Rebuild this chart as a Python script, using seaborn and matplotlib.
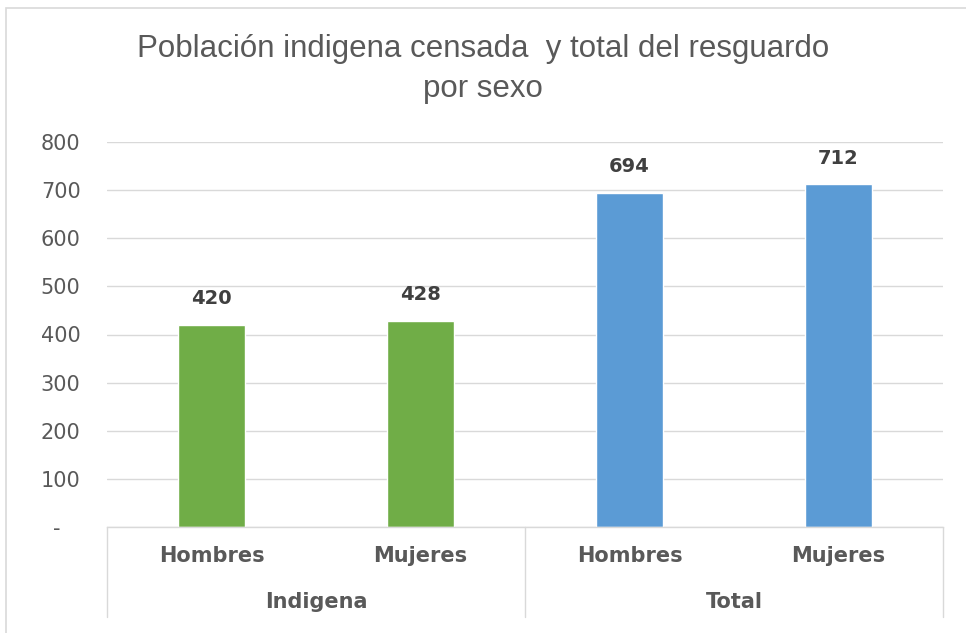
import pandas as pd
import seaborn as sns
import matplotlib.pyplot as plt
from matplotlib.patches import Rectangle

# data
groups = ["Indigena", "Indigena", "Total", "Total"]
sexes = ["Hombres", "Mujeres", "Hombres", "Mujeres"]
values = [420, 428, 694, 712]
group_colors = {"Indigena": "#70AD47", "Total": "#5B9BD5"}
y_ticks = [0, 100, 200, 300, 400, 500, 600, 700, 800]
y_tick_labels = ["-   ", "100", "200", "300", "400", "500", "600", "700", "800"]
title = "Población indigena censada  y total del resguardo\npor sexo"

sns.set_theme(style="white")
plt.rcParams["font.family"] = ["DejaVu Sans"]

df = pd.DataFrame({"grupo": groups, "sexo": sexes, "valor": values})
df["cat"] = [f"{g}-{s}" for g, s in zip(groups, sexes)]

fig = plt.figure(figsize=(9.66, 6.33), dpi=100)
fig.patch.set_facecolor("white")
fig.patches.append(Rectangle((6 / 966, -0.1), 1.2, 1 - 8 / 633 + 0.1, transform=fig.transFigure,
                             fill=False, edgecolor="#D9D9D9", linewidth=1.2))
ax = fig.add_axes([107 / 966, 1 - 527 / 633, 836 / 966, 385 / 633])

sns.barplot(data=df, x="cat", y="valor", hue="grupo", palette=group_colors, saturation=1,
            dodge=False, width=0.32, legend=False, ax=ax, order=list(df["cat"]))

ax.set_ylim(0, 800)
ax.set_xlim(-0.5, 3.5)
ax.set_yticks(y_ticks)
ax.set_yticklabels(y_tick_labels, color="#595959", fontsize=15)
ax.tick_params(axis="y", length=0, pad=19)
ax.set_xticks([])
ax.set_xlabel("")
ax.set_ylabel("")
ax.yaxis.grid(True, color="#D9D9D9", linewidth=1)
ax.set_axisbelow(True)
for side in ["left", "right", "top"]:
    ax.spines[side].set_visible(False)
ax.spines["bottom"].set_color("#D9D9D9")
ax.spines["bottom"].set_linewidth(1)

# value labels
for i, v in enumerate(values):
    ax.annotate(str(v), (i, v), xytext=(0, 12), textcoords="offset points", ha="center", va="bottom",
                fontsize=14, fontweight="bold", color="#404040")

# multi-level category axis
trans = ax.get_xaxis_transform()
for i, s in enumerate(sexes):
    ax.text(i, -0.075, s, transform=trans, ha="center", va="center", fontsize=15,
            fontweight="bold", color="#595959")
group_names = ["Indigena", "Total"]
for j, g in enumerate(group_names):
    ax.text(0.5 + 2 * j, -0.195, g, transform=trans, ha="center", va="center", fontsize=15,
            fontweight="bold", color="#595959")
for xs in [-0.5, 1.5, 3.5]:
    ax.plot([xs, xs], [0, -0.234], transform=trans, color="#D9D9D9", linewidth=1, clip_on=False)

fig.text(0.5, 1 - 69 / 633, title, ha="center", va="center", fontsize=22.5, color="#595959",
         linespacing=1.4, family=["Liberation Sans", "DejaVu Sans"])

plt.savefig("out.png", dpi=100)
